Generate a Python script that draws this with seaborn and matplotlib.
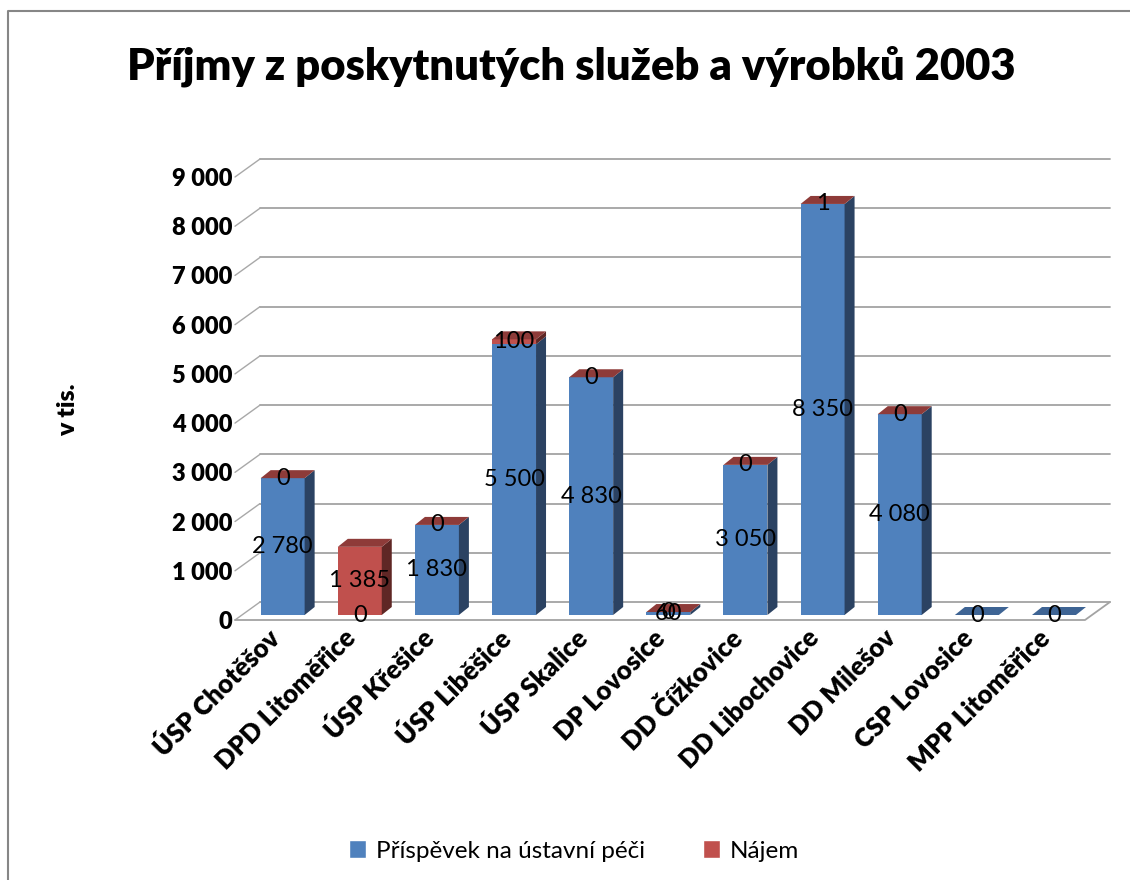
import numpy as np
import pandas as pd
import seaborn as sns
import matplotlib
matplotlib.use('Agg')
import matplotlib.pyplot as plt
from matplotlib import transforms
from matplotlib.lines import Line2D
from matplotlib.patches import Polygon, Patch
from matplotlib.ticker import FuncFormatter

# data (v tis.)
categories = ['ÚSP Chotěšov', 'DPD Litoměřice', 'ÚSP Křešice', 'ÚSP Liběšice',
              'ÚSP Skalice', 'DP Lovosice', 'DD Čížkovice', 'DD Libochovice',
              'DD Milešov', 'CSP Lovosice', 'MPP Litoměřice']
prispevek = [2780, 0, 1830, 5500, 4830, 60, 3050, 8350, 4080, 0, 0]
najem = [0, 1385, 0, 100, 0, 0, 0, 1, 0, np.nan, np.nan]
series_names = ['Příspěvek na ústavní péči', 'Nájem']
y_ticks = list(range(0, 9001, 1000))

BLUE, BLUE_SIDE, BLUE_TOP = '#4F81BD', '#2B4262', '#3E6494'
RED, RED_SIDE, RED_TOP = '#C0504D', '#5F2725', '#8E3B39'
GRID = '#a3a3a3'

sns.set_theme(style='white')
plt.rcParams['font.family'] = ['Lato', 'DejaVu Sans']
plt.rcParams['text.color'] = 'black'
plt.rcParams['xtick.color'] = 'black'
plt.rcParams['ytick.color'] = 'black'

df = pd.DataFrame({'kategorie': categories, 'prispevek': prispevek, 'najem': najem})
df['celkem'] = df['prispevek'] + df['najem'].fillna(0)

W, H = 1130, 880
fig = plt.figure(figsize=(W / 100, H / 100), dpi=100)
ax = fig.add_axes([235 / W, 260 / H, 850 / W, 443 / H])

# total in red first, blue on top of it -> stacked look
sns.barplot(data=df, x='kategorie', y='celkem', color=RED, saturation=1,
            width=0.57, order=categories, ax=ax)
sns.barplot(data=df, x='kategorie', y='prispevek', color=BLUE, saturation=1,
            width=0.57, order=categories, ax=ax)

xmin, xmax = -0.54, 10.48
ax.set_xlim(xmin, xmax)
ax.set_ylim(0, 9000)
for s in ax.spines.values():
    s.set_visible(False)
ax.set_xlabel('')
ax.set_ylabel('')

# pixel -> data scale
sx = (xmax - xmin) / 850
sy = 9000 / 443

# walls: back gridlines + left diagonals + floor
wdx, wdy = 25 * sx, 18 * sy
for t in y_ticks:
    ax.add_line(Line2D([xmin + wdx, xmax + wdx], [t + wdy, t + wdy], color=GRID,
                       lw=1.3, zorder=0.5, clip_on=False))
    ax.add_line(Line2D([xmin, xmin + wdx], [t, t + wdy], color='#a8a8a8',
                       lw=1, zorder=0.5, clip_on=False))
ax.add_line(Line2D([xmin, xmax, xmax + wdx], [0, 0, wdy], color=GRID,
                   lw=1.3, zorder=0.5, clip_on=False))

# bars sit a bit behind the front edge of the floor
bar_tr = transforms.offset_copy(ax.transData, fig=fig, x=6, y=5, units='dots')
bdx, bdy = 10 * sx, 8 * sy
n = len(categories)
red_bars = ax.patches[:n]
blue_bars = ax.patches[n:2 * n]
for i in range(n):
    for p in (red_bars[i], blue_bars[i]):
        p.set_transform(bar_tr)
        p.set_clip_on(False)
        p.set_linewidth(0)
        p.set_zorder(2)
    x0 = blue_bars[i].get_x()
    x1 = x0 + blue_bars[i].get_width()
    yb = blue_bars[i].get_height()
    yt = red_bars[i].get_height()
    faces = [([(x1, 0), (x1 + bdx, bdy), (x1 + bdx, yb + bdy), (x1, yb)], BLUE_SIDE)]
    if not np.isnan(najem[i]):
        faces.append(([(x1, yb), (x1 + bdx, yb + bdy), (x1 + bdx, yt + bdy), (x1, yt)], RED_SIDE))
        top_col = RED_TOP
    else:
        top_col = BLUE_TOP
    faces.append(([(x0, yt), (x1, yt), (x1 + bdx, yt + bdy), (x0 + bdx, yt + bdy)], top_col))
    for pts, col in faces:
        ax.add_patch(Polygon(pts, closed=True, facecolor=col, edgecolor='none',
                             transform=bar_tr, clip_on=False, zorder=2))


def fmt(v):
    return f'{v:,.0f}'.replace(',', ' ')


# data labels
for i in range(n):
    cx = i
    ax.text(cx, prispevek[i] / 2, fmt(prispevek[i]), ha='center', va='center',
            fontsize=17, color='black', transform=bar_tr, zorder=5)
    if not np.isnan(najem[i]):
        ax.text(cx, prispevek[i] + najem[i] / 2, fmt(najem[i]), ha='center',
                va='center', fontsize=17, color='black', transform=bar_tr, zorder=5)

ax.set_yticks(y_ticks)
ax.yaxis.set_major_formatter(FuncFormatter(lambda v, p: fmt(v)))
ax.tick_params(axis='y', length=0, pad=2, labelsize=17)
for lab in ax.get_yticklabels():
    lab.set_fontweight('heavy')

ax.set_xticks(range(n))
ax.set_xticklabels(categories, rotation=45, ha='right', va='top',
                   rotation_mode='anchor', fontsize=18.5, fontweight='heavy')
ax.tick_params(axis='x', length=0, pad=4)
lab_shift = transforms.ScaledTranslation(-0.10, 0, fig.dpi_scale_trans)
for lab in ax.get_xticklabels():
    lab.set_transform(lab.get_transform() + lab_shift)

fig.text(0.506, 0.925, 'Příjmy z poskytnutých služeb a výrobků 2003',
         ha='center', va='center', fontsize=31.3, fontweight='heavy')
fig.text(68 / W, 1 - 410 / H, 'v tis.', rotation=90, ha='center', va='center',
         fontsize=18, fontweight='heavy')

handles = [Patch(facecolor=BLUE), Patch(facecolor=RED)]
fig.legend(handles, series_names, loc='center', bbox_to_anchor=(0.508, 29 / H),
           ncol=2, frameon=False, fontsize=17.5, handlelength=0.7,
           handleheight=0.7, handletextpad=0.4, columnspacing=2.4)

# chart area border (only top/left visible in the crop)
fig.add_artist(Line2D([8 / W, 8 / W, 1.0], [0.0, 1 - 11 / H, 1 - 11 / H],
                      color='#868686', lw=1.5, transform=fig.transFigure))

fig.savefig('out.png', dpi=100)
